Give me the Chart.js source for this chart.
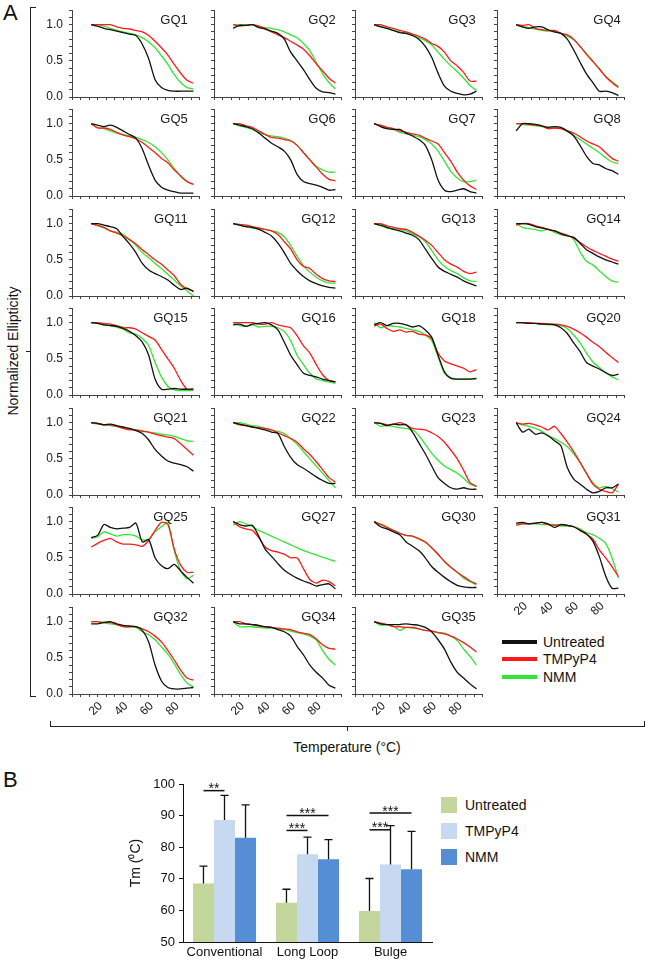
<!DOCTYPE html>
<html>
<head>
<meta charset="utf-8">
<title>GQ melting curves and Tm</title>
<script src="https://cdn.jsdelivr.net/npm/chart.js@4.4.0/dist/chart.umd.min.js"></script>
<style>
    body { margin: 0; background: #fff; font-family: "Liberation Sans", Arial, sans-serif; color: #111; }
    #page { position: relative; width: 647px; height: 961px; overflow: hidden; }
    .txt { position: absolute; white-space: nowrap; }
    .ln { position: absolute; background: #222; }
    .key { position: absolute; }
</style>
</head>
<body>
<div id="page">
    <div class="txt" style="left:3px;top:0px;font-size:22px;">A</div>
    <div class="txt" style="left:3px;top:767px;font-size:22px;">B</div>
    <div class="txt" style="left:13px;top:351px;font-size:14px;transform:translate(-50%,-50%) rotate(-90deg);">Normalized Ellipticity</div>
    <div class="txt" style="left:347px;top:747px;font-size:14px;transform:translate(-50%,-50%);">Temperature (°C)</div>

    <div class="ln" style="left:30px;top:7px;width:1px;height:690px;"></div>
    <div class="ln" style="left:30px;top:7px;width:6px;height:1px;"></div>
    <div class="ln" style="left:30px;top:696px;width:6px;height:1px;"></div>
    <div class="ln" style="left:26px;top:351px;width:5px;height:1px;"></div>
    <div class="ln" style="left:50px;top:726px;width:595px;height:1px;"></div>
    <div class="ln" style="left:50px;top:721px;width:1px;height:6px;"></div>
    <div class="ln" style="left:644px;top:721px;width:1px;height:6px;"></div>
    <div class="ln" style="left:347px;top:726px;width:1px;height:5px;"></div>

    <div class="key" style="left:502px;top:640px;width:35px;height:4px;background:#111;"></div>
    <div class="key" style="left:502px;top:657px;width:35px;height:4px;background:#ff1a1a;"></div>
    <div class="key" style="left:502px;top:675px;width:35px;height:4px;background:#33e633;"></div>
    <div class="txt" style="left:543px;top:634px;font-size:14px;line-height:16px;">Untreated</div>
    <div class="txt" style="left:543px;top:651px;font-size:14px;line-height:16px;">TMPyP4</div>
    <div class="txt" style="left:543px;top:669px;font-size:14px;line-height:16px;">NMM</div>

    <div class="key" style="left:441px;top:797px;width:16px;height:16px;background:#c3d69b;"></div>
    <div class="key" style="left:441px;top:823px;width:16px;height:16px;background:#c6d9f1;"></div>
    <div class="key" style="left:441px;top:849px;width:16px;height:16px;background:#558ed5;"></div>
    <div class="txt" style="left:465px;top:797px;font-size:14px;line-height:16px;">Untreated</div>
    <div class="txt" style="left:465px;top:823px;font-size:14px;line-height:16px;">TMPyP4</div>
    <div class="txt" style="left:465px;top:849px;font-size:14px;line-height:16px;">NMM</div>
</div>

<script>
// temperature grid of the melting curves (°C)
var temps = [15, 20, 25, 30, 35, 40, 45, 50, 55, 60, 65, 70, 75, 80, 85, 90, 95];

var xTickValues = [0, 6.67, 13.33, 20, 26.67, 33.33, 40, 46.67, 53.33, 60, 66.67, 73.33, 80, 86.67, 93.33, 100];
var xLabelValues = [20, 40, 60, 80];
var yTickValues = [0, 0.1, 0.2, 0.3, 0.4, 0.5, 0.6, 0.7, 0.8, 0.9, 1.0, 1.1, 1.2];
var yLabelValues = [0, 0.5, 1.0];

// each panel: [untreated, TMPyP4, NMM]
var gq1 = [
    [1.0, 0.98, 0.95, 0.93, 0.91, 0.89, 0.87, 0.85, 0.73, 0.53, 0.24, 0.13, 0.09, 0.08, 0.08, 0.08, 0.08],
    [1.0, 1.0, 1.0, 1.0, 0.97, 0.95, 0.94, 0.92, 0.9, 0.85, 0.77, 0.68, 0.58, 0.45, 0.33, 0.23, 0.19],
    [1.0, 1.0, 0.98, 0.95, 0.92, 0.9, 0.88, 0.86, 0.82, 0.76, 0.68, 0.57, 0.45, 0.31, 0.2, 0.13, 0.11]
];
var gq2 = [
    [0.95, 0.99, 0.99, 1.0, 0.96, 0.94, 0.91, 0.88, 0.8, 0.62, 0.5, 0.38, 0.24, 0.12, 0.07, 0.06, 0.04],
    [1.0, 0.98, 0.99, 1.0, 0.98, 0.95, 0.9, 0.86, 0.82, 0.77, 0.72, 0.66, 0.57, 0.46, 0.36, 0.26, 0.19],
    [1.0, 1.0, 1.0, 1.0, 0.98, 0.96, 0.95, 0.93, 0.9, 0.86, 0.82, 0.74, 0.64, 0.48, 0.32, 0.2, 0.11]
];
var gq3 = [
    [1.0, 0.97, 0.95, 0.92, 0.89, 0.88, 0.85, 0.8, 0.7, 0.55, 0.33, 0.15, 0.08, 0.05, 0.03, 0.04, 0.08],
    [1.0, 1.0, 0.97, 0.95, 0.92, 0.9, 0.87, 0.84, 0.8, 0.74, 0.7, 0.62, 0.5, 0.43, 0.34, 0.22, 0.22],
    [1.0, 0.98, 0.95, 0.92, 0.9, 0.88, 0.85, 0.82, 0.78, 0.72, 0.62, 0.52, 0.43, 0.35, 0.26, 0.16, 0.09]
];
var gq4 = [
    [1.0, 0.97, 0.95, 0.97, 0.97, 0.93, 0.9, 0.88, 0.8, 0.65, 0.48, 0.32, 0.2, 0.08, 0.08, 0.06, 0.02],
    [1.0, 0.99, 1.0, 0.95, 0.93, 0.92, 0.92, 0.88, 0.86, 0.8, 0.7, 0.59, 0.49, 0.39, 0.28, 0.2, 0.13],
    [1.0, 0.97, 0.96, 0.94, 0.92, 0.91, 0.9, 0.88, 0.84, 0.79, 0.7, 0.6, 0.5, 0.39, 0.29, 0.21, 0.15]
];
var gq5 = [
    [1.0, 0.98, 0.96, 0.98, 0.95, 0.9, 0.85, 0.8, 0.65, 0.42, 0.22, 0.12, 0.08, 0.06, 0.04, 0.04, 0.04],
    [1.0, 0.94, 0.94, 0.92, 0.88, 0.84, 0.82, 0.79, 0.74, 0.67, 0.6, 0.52, 0.46, 0.36, 0.28, 0.2, 0.16],
    [1.0, 0.95, 0.93, 0.9, 0.87, 0.85, 0.83, 0.81, 0.78, 0.74, 0.68, 0.6, 0.5, 0.38, 0.27, 0.2, 0.16]
];
var gq6 = [
    [1.0, 0.98, 0.96, 0.93, 0.87, 0.8, 0.73, 0.68, 0.62, 0.5, 0.3, 0.2, 0.17, 0.15, 0.12, 0.08, 0.09],
    [1.0, 1.0, 0.97, 0.95, 0.9, 0.85, 0.81, 0.8, 0.78, 0.76, 0.7, 0.6, 0.5, 0.4, 0.3, 0.23, 0.21],
    [1.0, 0.97, 0.95, 0.92, 0.88, 0.85, 0.83, 0.82, 0.8, 0.77, 0.7, 0.6, 0.5, 0.41, 0.36, 0.33, 0.33]
];
var gq7 = [
    [1.0, 0.96, 0.93, 0.92, 0.92, 0.87, 0.83, 0.78, 0.7, 0.5, 0.22, 0.08, 0.06, 0.08, 0.1, 0.06, 0.04],
    [1.0, 0.98, 0.95, 0.93, 0.9, 0.88, 0.86, 0.84, 0.8, 0.76, 0.72, 0.6, 0.48, 0.33, 0.22, 0.14, 0.09],
    [1.0, 0.97, 0.95, 0.92, 0.88, 0.86, 0.84, 0.82, 0.78, 0.72, 0.62, 0.48, 0.34, 0.25, 0.2, 0.2, 0.22]
];
var gq8 = [
    [0.9, 1.0, 1.0, 0.99, 0.97, 0.95, 0.96, 0.95, 0.9, 0.83, 0.7, 0.55, 0.45, 0.43, 0.38, 0.35, 0.3],
    [1.0, 1.0, 0.99, 0.98, 0.97, 0.93, 0.94, 0.93, 0.9, 0.87, 0.82, 0.76, 0.72, 0.68, 0.6, 0.52, 0.48],
    [1.0, 0.99, 0.98, 0.97, 0.96, 0.95, 0.94, 0.93, 0.89, 0.84, 0.78, 0.72, 0.66, 0.6, 0.53, 0.47, 0.45]
];
var gq11 = [
    [1.0, 1.0, 0.98, 0.96, 0.93, 0.82, 0.72, 0.6, 0.45, 0.36, 0.31, 0.27, 0.22, 0.15, 0.09, 0.11, 0.06],
    [1.0, 0.98, 0.95, 0.9, 0.87, 0.83, 0.78, 0.72, 0.64, 0.57, 0.5, 0.44, 0.36, 0.28, 0.16, 0.1, 0.07],
    [1.0, 0.97, 0.94, 0.9, 0.88, 0.85, 0.78, 0.7, 0.6, 0.53, 0.45, 0.38, 0.3, 0.22, 0.14, 0.07, 0.0]
];
var gq12 = [
    [1.0, 0.98, 0.96, 0.95, 0.92, 0.88, 0.83, 0.73, 0.6, 0.45, 0.35, 0.27, 0.21, 0.17, 0.14, 0.12, 0.11],
    [1.0, 0.99, 0.98, 0.96, 0.94, 0.92, 0.9, 0.85, 0.75, 0.65, 0.5, 0.41, 0.38, 0.3, 0.24, 0.21, 0.2],
    [1.0, 0.98, 0.96, 0.94, 0.93, 0.92, 0.9, 0.88, 0.82, 0.7, 0.55, 0.42, 0.33, 0.26, 0.21, 0.18, 0.18]
];
var gq13 = [
    [1.0, 0.98, 0.95, 0.92, 0.9, 0.87, 0.84, 0.78, 0.65, 0.52, 0.4, 0.34, 0.3, 0.26, 0.21, 0.17, 0.14],
    [1.0, 1.0, 0.97, 0.95, 0.93, 0.92, 0.88, 0.83, 0.77, 0.7, 0.6, 0.5, 0.44, 0.4, 0.34, 0.31, 0.33],
    [1.0, 0.97, 0.94, 0.93, 0.92, 0.9, 0.86, 0.82, 0.75, 0.63, 0.5, 0.41, 0.35, 0.31, 0.25, 0.21, 0.2]
];
var gq14 = [
    [1.0, 1.0, 0.99, 0.96, 0.94, 0.92, 0.9, 0.86, 0.83, 0.81, 0.73, 0.64, 0.59, 0.54, 0.5, 0.47, 0.44],
    [0.98, 1.0, 1.0, 0.97, 0.95, 0.92, 0.9, 0.87, 0.84, 0.8, 0.74, 0.68, 0.63, 0.59, 0.55, 0.51, 0.48],
    [1.0, 0.95, 0.93, 0.92, 0.9, 0.92, 0.88, 0.85, 0.84, 0.78, 0.61, 0.48, 0.43, 0.35, 0.27, 0.21, 0.19]
];
var gq15 = [
    [1.0, 0.99, 0.97, 0.96, 0.95, 0.92, 0.88, 0.82, 0.73, 0.55, 0.22, 0.08, 0.08, 0.09, 0.08, 0.08, 0.08],
    [1.0, 1.0, 0.99, 0.98, 0.96, 0.93, 0.93, 0.91, 0.86, 0.81, 0.76, 0.63, 0.5, 0.37, 0.2, 0.08, 0.08],
    [1.0, 0.99, 0.97, 0.96, 0.94, 0.91, 0.86, 0.84, 0.78, 0.68, 0.45, 0.25, 0.12, 0.07, 0.06, 0.06, 0.06]
];
var gq16 = [
    [0.97, 0.98, 0.95, 0.98, 0.99, 1.0, 0.97, 0.9, 0.73, 0.55, 0.42, 0.3, 0.27, 0.25, 0.22, 0.2, 0.18],
    [1.0, 1.0, 1.0, 1.0, 0.98, 0.98, 1.0, 0.97, 0.95, 0.93, 0.82, 0.68, 0.58, 0.42, 0.28, 0.2, 0.18],
    [1.0, 0.96, 0.95, 0.97, 0.94, 0.95, 0.95, 0.93, 0.88, 0.75, 0.55, 0.42, 0.3, 0.22, 0.2, 0.18, 0.16]
];
var gq18 = [
    [0.97, 1.0, 0.96, 0.99, 0.99, 0.97, 0.94, 0.96, 0.9, 0.8, 0.55, 0.32, 0.23, 0.22, 0.22, 0.22, 0.23],
    [0.95, 0.98, 0.92, 0.88, 0.9, 0.87, 0.88, 0.84, 0.83, 0.78, 0.58, 0.47, 0.43, 0.4, 0.37, 0.32, 0.35],
    [1.0, 0.93, 0.96, 0.95, 0.94, 0.92, 0.9, 0.88, 0.83, 0.75, 0.53, 0.3, 0.24, 0.22, 0.22, 0.22, 0.22]
];
var gq20 = [
    [1.0, 1.0, 0.99, 0.99, 0.98, 0.98, 0.97, 0.93, 0.85, 0.72, 0.6, 0.45, 0.4, 0.36, 0.31, 0.27, 0.29],
    [1.0, 1.0, 1.0, 0.99, 0.99, 0.98, 0.98, 0.97, 0.95, 0.91, 0.86, 0.8, 0.73, 0.67, 0.59, 0.52, 0.45],
    [1.0, 1.0, 0.99, 0.99, 0.98, 0.97, 0.97, 0.96, 0.92, 0.83, 0.72, 0.58, 0.46, 0.38, 0.31, 0.25, 0.21]
];
var gq21 = [
    [1.0, 0.99, 0.97, 0.98, 0.96, 0.94, 0.92, 0.89, 0.85, 0.76, 0.63, 0.54, 0.47, 0.44, 0.42, 0.39, 0.33],
    [1.0, 0.99, 0.97, 0.97, 0.95, 0.92, 0.9, 0.9, 0.88, 0.87, 0.84, 0.82, 0.8, 0.78, 0.71, 0.63, 0.55],
    [1.0, 0.98, 0.97, 0.96, 0.95, 0.93, 0.91, 0.9, 0.89, 0.87, 0.86, 0.84, 0.83, 0.81, 0.78, 0.75, 0.74]
];
var gq22 = [
    [1.0, 0.98, 0.96, 0.94, 0.92, 0.9, 0.87, 0.85, 0.67, 0.52, 0.42, 0.37, 0.31, 0.25, 0.2, 0.16, 0.16],
    [1.0, 0.97, 0.96, 0.94, 0.93, 0.92, 0.9, 0.86, 0.82, 0.78, 0.73, 0.64, 0.56, 0.46, 0.35, 0.24, 0.18],
    [1.0, 1.0, 0.98, 0.96, 0.95, 0.92, 0.9, 0.88, 0.85, 0.78, 0.7, 0.6, 0.5, 0.4, 0.3, 0.2, 0.1]
];
var gq23 = [
    [1.0, 0.99, 0.96, 0.98, 0.97, 0.97, 0.87, 0.72, 0.57, 0.4, 0.24, 0.16, 0.1, 0.08, 0.1, 0.08, 0.08],
    [1.0, 0.99, 0.97, 0.98, 1.0, 0.97, 0.92, 0.91, 0.9, 0.86, 0.81, 0.73, 0.62, 0.5, 0.34, 0.17, 0.12],
    [1.0, 0.95, 0.96, 0.95, 0.93, 0.92, 0.9, 0.82, 0.7, 0.58, 0.48, 0.4, 0.35, 0.3, 0.23, 0.15, 0.12]
];
var gq24 = [
    [1.0, 0.87, 0.91, 0.84, 0.86, 0.82, 0.75, 0.68, 0.38, 0.22, 0.15, 0.08, 0.03, 0.05, 0.1, 0.1, 0.15],
    [1.0, 0.98, 0.99, 0.97, 0.94, 0.9, 0.95, 0.85, 0.73, 0.6, 0.45, 0.3, 0.15, 0.08, 0.05, 0.03, 0.15],
    [1.0, 0.97, 0.95, 0.92, 0.88, 0.82, 0.78, 0.73, 0.67, 0.57, 0.45, 0.3, 0.17, 0.1, 0.12, 0.09, 0.04]
];
var gq25 = [
    [0.78, 0.81, 0.96, 0.92, 0.9, 0.91, 0.92, 0.98, 0.72, 0.75, 0.5, 0.39, 0.35, 0.41, 0.32, 0.23, 0.15],
    [0.65, 0.7, 0.74, 0.77, 0.72, 0.69, 0.69, 0.68, 0.66, 0.74, 0.88, 0.99, 0.96, 0.62, 0.4, 0.3, 0.3],
    [0.77, 0.79, 0.86, 0.83, 0.8, 0.82, 0.82, 0.8, 0.75, 0.76, 0.86, 0.93, 0.99, 0.6, 0.32, 0.21, 0.26]
];
var gq27 = [
    [1.0, 0.96, 0.94, 0.95, 0.8, 0.62, 0.52, 0.42, 0.33, 0.27, 0.22, 0.18, 0.15, 0.11, 0.13, 0.14, 0.07],
    [1.0, 0.93, 0.9, 0.88, 0.78, 0.65, 0.6, 0.58, 0.55, 0.5, 0.5, 0.35, 0.2, 0.15, 0.19, 0.17, 0.11],
    [0.95, 1.0, 0.97, 0.93, 0.88, 0.84, 0.8, 0.76, 0.72, 0.68, 0.64, 0.6, 0.57, 0.54, 0.51, 0.48, 0.45]
];
var gq30 = [
    [1.0, 0.93, 0.9, 0.86, 0.82, 0.72, 0.66, 0.6, 0.5, 0.38, 0.3, 0.23, 0.17, 0.12, 0.1, 0.09, 0.09],
    [1.0, 0.96, 0.92, 0.88, 0.84, 0.81, 0.8, 0.76, 0.72, 0.64, 0.55, 0.45, 0.37, 0.3, 0.24, 0.18, 0.14],
    [1.0, 0.97, 0.93, 0.88, 0.84, 0.81, 0.8, 0.77, 0.72, 0.64, 0.55, 0.45, 0.37, 0.3, 0.22, 0.17, 0.13]
];
var gq31 = [
    [0.98, 0.99, 0.97, 0.98, 0.99, 0.97, 0.92, 0.96, 0.95, 0.93, 0.88, 0.83, 0.73, 0.52, 0.25, 0.08, 0.08],
    [0.95, 0.97, 0.97, 0.98, 0.99, 0.96, 0.95, 0.96, 0.95, 0.93, 0.88, 0.83, 0.76, 0.61, 0.5, 0.38, 0.24],
    [0.97, 0.97, 0.97, 0.97, 0.96, 0.96, 0.96, 0.94, 0.94, 0.93, 0.9, 0.85, 0.82, 0.77, 0.7, 0.5, 0.22]
];
var gq32 = [
    [0.97, 0.97, 0.99, 1.0, 0.97, 0.95, 0.94, 0.93, 0.88, 0.72, 0.4, 0.18, 0.09, 0.07, 0.07, 0.08, 0.09],
    [1.0, 1.0, 0.99, 0.99, 0.96, 0.93, 0.93, 0.93, 0.9, 0.86, 0.8, 0.72, 0.6, 0.47, 0.33, 0.22, 0.19],
    [1.0, 1.0, 0.98, 0.97, 0.96, 0.93, 0.93, 0.92, 0.86, 0.82, 0.75, 0.65, 0.55, 0.42, 0.27, 0.15, 0.1]
];
var gq34 = [
    [1.0, 0.97, 0.97, 0.96, 0.95, 0.93, 0.92, 0.89, 0.86, 0.8, 0.66, 0.54, 0.4, 0.3, 0.22, 0.12, 0.08],
    [1.0, 1.0, 0.97, 0.96, 0.94, 0.93, 0.92, 0.91, 0.9, 0.89, 0.86, 0.84, 0.82, 0.76, 0.68, 0.63, 0.62],
    [1.0, 0.93, 0.93, 0.93, 0.92, 0.91, 0.91, 0.9, 0.89, 0.87, 0.85, 0.83, 0.8, 0.75, 0.6, 0.48, 0.4]
];
var gq35 = [
    [1.0, 0.97, 0.96, 0.96, 0.96, 0.97, 0.96, 0.95, 0.92, 0.86, 0.75, 0.62, 0.44, 0.3, 0.22, 0.14, 0.07],
    [1.0, 0.98, 0.96, 0.93, 0.93, 0.92, 0.92, 0.9, 0.88, 0.87, 0.85, 0.83, 0.8, 0.76, 0.71, 0.65, 0.58],
    [1.0, 0.95, 0.96, 0.94, 0.88, 0.92, 0.91, 0.9, 0.88, 0.87, 0.85, 0.84, 0.8, 0.74, 0.62, 0.52, 0.4]
];

var panelNames = ["GQ1", "GQ2", "GQ3", "GQ4", "GQ5", "GQ6", "GQ7", "GQ8",
    "GQ11", "GQ12", "GQ13", "GQ14", "GQ15", "GQ16", "GQ18", "GQ20",
    "GQ21", "GQ22", "GQ23", "GQ24", "GQ25", "GQ27", "GQ30", "GQ31",
    "GQ32", "GQ34", "GQ35"];
var panelData = [gq1, gq2, gq3, gq4, gq5, gq6, gq7, gq8,
    gq11, gq12, gq13, gq14, gq15, gq16, gq18, gq20,
    gq21, gq22, gq23, gq24, gq25, gq27, gq30, gq31,
    gq32, gq34, gq35];

// panel B: melting temperatures
var groupLabels = ["Conventional", "Long Loop", "Bulge"];
var tmUntreated = [68.5, 62.4, 59.8];
var tmTmpyp4 = [88.6, 77.8, 74.5];
var tmNmm = [83.0, 76.2, 73.0];
var errUntreated = [5.5, 4.3, 10.3];
var errTmpyp4 = [7.8, 5.4, 12.3];
var errNmm = [10.4, 6.2, 12.0];
var sigGroup = [0, 1, 1, 2, 2];
var sigFrom = [0, 0, 0, 0, 0];
var sigTo = [1, 2, 1, 2, 1];
var sigLevel = [97.9, 90.0, 85.3, 90.8, 85.5];
var sigText = ["**", "***", "***", "***", "***"];

var lineColors = ["#111111", "#ff1a1a", "#33e633"];
var titleInset = [12, 6, 7, 4];
var FONT = "'Liberation Sans', Arial, sans-serif";

Chart.defaults.font.family = FONT;

var panelTitlePlugin = {
    id: "panelTitle",
    afterDraw: function(chart, args, opts) {
        var ctx = chart.ctx;
        var area = chart.chartArea;
        ctx.save();
        ctx.font = "13px " + FONT;
        ctx.fillStyle = "#1a1a1a";
        ctx.textAlign = "right";
        ctx.textBaseline = "middle";
        ctx.fillText(opts.text, area.right - opts.inset, area.top + 10);
        ctx.restore();
    }
};

function makeCanvas(left, top, w, h) {
    var c = document.createElement("canvas");
    c.width = w;
    c.height = h;
    c.style.position = "absolute";
    c.style.left = left + "px";
    c.style.top = top + "px";
    c.style.width = w + "px";
    c.style.height = h + "px";
    document.getElementById("page").appendChild(c);
    return c;
}

function makeSeries(values, color) {
    var pts = [];
    for (var i = 0; i < temps.length; i++) {
        pts.push({ x: temps[i], y: values[i] });
    }
    return {
        data: pts,
        borderColor: color,
        borderWidth: 1.3,
        pointRadius: 0,
        tension: 0.25,
        fill: false
    };
}

function drawPanel(idx) {
    var col = idx % 4;
    var row = Math.floor(idx / 4);
    var axisX = 72 + 141.5 * col;
    var bottom = 96.7 + 99.5 * row;
    var showX = row === 6 || (row === 5 && col === 3);
    var showY = col === 0;
    var canvas = makeCanvas(axisX - 40, bottom - 100, 180, 134);
    var vals = panelData[idx];

    new Chart(canvas, {
        type: "line",
        data: {
            datasets: [
                makeSeries(vals[0], lineColors[0]),
                makeSeries(vals[1], lineColors[1]),
                makeSeries(vals[2], lineColors[2])
            ]
        },
        options: {
            responsive: false,
            animation: false,
            events: [],
            layout: { padding: { top: 10, right: 12, left: 0, bottom: 0 } },
            plugins: {
                legend: { display: false },
                tooltip: { enabled: false },
                panelTitle: { text: panelNames[idx], inset: titleInset[col] }
            },
            scales: {
                x: {
                    type: "linear",
                    min: 0,
                    max: 100,
                    afterBuildTicks: function(scale) {
                        scale.ticks = xTickValues.map(function(v) { return { value: v }; });
                    },
                    afterFit: function(scale) { scale.height = 34; },
                    grid: { drawOnChartArea: false, tickLength: 3, color: "#444" },
                    border: { color: "#444" },
                    ticks: {
                        autoSkip: false,
                        minRotation: 45,
                        maxRotation: 45,
                        padding: 2,
                        labelOffset: 3,
                        color: "#1a1a1a",
                        font: { size: 12 },
                        callback: function(value) {
                            if (!showX) return "";
                            return xLabelValues.indexOf(Math.round(value)) >= 0 && Math.abs(value - Math.round(value)) < 0.01 ? String(Math.round(value)) : "";
                        }
                    }
                },
                y: {
                    min: 0,
                    max: 1.2,
                    afterBuildTicks: function(scale) {
                        scale.ticks = yTickValues.map(function(v) { return { value: v }; });
                    },
                    afterFit: function(scale) { scale.width = 40; },
                    grid: { drawOnChartArea: false, tickLength: 3, color: "#444" },
                    border: { color: "#444" },
                    ticks: {
                        autoSkip: false,
                        padding: 6,
                        color: "#1a1a1a",
                        font: { size: 12 },
                        callback: function(value) {
                            if (!showY) return "";
                            var v = Math.round(value * 10) / 10;
                            return yLabelValues.indexOf(v) >= 0 ? v.toFixed(1) : "";
                        }
                    }
                }
            }
        },
        plugins: [panelTitlePlugin]
    });
}

for (var p = 0; p < panelData.length; p++) {
    drawPanel(p);
}

// panel B
var errorBarPlugin = {
    id: "errorBars",
    afterDatasetsDraw: function(chart) {
        var ctx = chart.ctx;
        var yScale = chart.scales.y;
        var errs = [errUntreated, errTmpyp4, errNmm];
        ctx.save();
        ctx.strokeStyle = "#111";
        ctx.lineWidth = 1.3;
        for (var d = 0; d < errs.length; d++) {
            var meta = chart.getDatasetMeta(d);
            var values = chart.data.datasets[d].data;
            for (var j = 0; j < meta.data.length; j++) {
                var bar = meta.data[j];
                var top = yScale.getPixelForValue(values[j] + errs[d][j]);
                ctx.beginPath();
                ctx.moveTo(bar.x, bar.y);
                ctx.lineTo(bar.x, top);
                ctx.moveTo(bar.x - 4, top);
                ctx.lineTo(bar.x + 4, top);
                ctx.stroke();
            }
        }
        ctx.restore();
    }
};

var sigPlugin = {
    id: "sigMarks",
    afterDatasetsDraw: function(chart) {
        var ctx = chart.ctx;
        var yScale = chart.scales.y;
        ctx.save();
        ctx.strokeStyle = "#111";
        ctx.fillStyle = "#111";
        ctx.lineWidth = 1.5;
        ctx.font = "14px " + FONT;
        ctx.textAlign = "center";
        ctx.textBaseline = "alphabetic";
        for (var k = 0; k < sigGroup.length; k++) {
            var x1 = chart.getDatasetMeta(sigFrom[k]).data[sigGroup[k]].x;
            var x2 = chart.getDatasetMeta(sigTo[k]).data[sigGroup[k]].x;
            var yy = yScale.getPixelForValue(sigLevel[k]);
            ctx.beginPath();
            ctx.moveTo(x1, yy);
            ctx.lineTo(x2, yy);
            ctx.stroke();
            ctx.fillText(sigText[k], (x1 + x2) / 2, yy + 2.5);
        }
        ctx.restore();
    }
};

var barCanvas = makeCanvas(124, 770, 320, 191);
new Chart(barCanvas, {
    type: "bar",
    data: {
        labels: groupLabels,
        datasets: [
            { label: "Untreated", data: tmUntreated, backgroundColor: "#c3d69b" },
            { label: "TMPyP4", data: tmTmpyp4, backgroundColor: "#c6d9f1" },
            { label: "NMM", data: tmNmm, backgroundColor: "#558ed5" }
        ]
    },
    options: {
        responsive: false,
        animation: false,
        events: [],
        datasets: { bar: { categoryPercentage: 0.76, barPercentage: 1.0 } },
        layout: { padding: { top: 14, right: 12, left: 0, bottom: 0 } },
        plugins: { legend: { display: false }, tooltip: { enabled: false } },
        scales: {
            x: {
                afterFit: function(scale) { scale.height = 19; },
                grid: { drawOnChartArea: false, drawTicks: false },
                border: { color: "#111" },
                ticks: { padding: 3, color: "#111", font: { size: 13 } }
            },
            y: {
                min: 50,
                max: 100,
                afterFit: function(scale) { scale.width = 59; },
                grid: { drawOnChartArea: false, tickLength: 4, color: "#111" },
                border: { color: "#111" },
                ticks: { stepSize: 10, padding: 4, color: "#111", font: { size: 13 } },
                title: {
                    display: true,
                    text: "Tm (\u2070C)",
                    color: "#111",
                    font: { size: 14 },
                    padding: { top: 4, bottom: 0 }
                }
            }
        }
    },
    plugins: [errorBarPlugin, sigPlugin]
});
</script>
</body>
</html>
